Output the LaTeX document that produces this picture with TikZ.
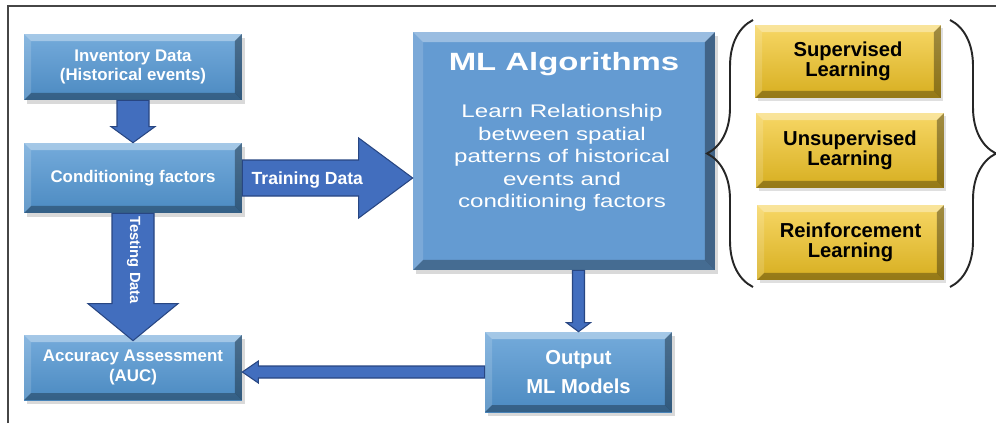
\documentclass[tikz,border=0pt]{standalone}
\usepackage{fontspec}
\setmainfont{Liberation Sans}
\newfontfamily\widefont[FakeStretch=1.32]{Liberation Sans}
\usetikzlibrary{calc,shadows,decorations.pathreplacing}

\definecolor{boxblue}{RGB}{82,150,210}
\definecolor{mlblue}{RGB}{100,155,210}
\definecolor{arrowblue}{RGB}{66,110,190}
\definecolor{arrowline}{RGB}{40,70,130}
\definecolor{gold}{RGB}{244,198,36}
\definecolor{framegray}{RGB}{70,70,70}

\tikzset{
  bevel/.style={path picture={
      \coordinate (nw) at (path picture bounding box.north west);
      \coordinate (se) at (path picture bounding box.south east);
      \coordinate (ne) at (nw -| se);
      \coordinate (sw) at (se -| nw);
      \fill[white, opacity=.35] (nw) -- (ne) -- ($(ne)+(-#1,#1)$) -- ($(nw)+(#1,#1)$) -- cycle;
      \fill[white, opacity=.15] (nw) -- (sw) -- ($(sw)+(#1,-#1)$) -- ($(nw)+(#1,#1)$) -- cycle;
      \fill[black, opacity=.30] (se) -- (sw) -- ($(sw)+(#1,-#1)$) -- ($(se)+(-#1,-#1)$) -- cycle;
      \fill[black, opacity=.35] (se) -- (ne) -- ($(ne)+(-#1,#1)$) -- ($(se)+(-#1,-#1)$) -- cycle;
  }},
  bluebox/.style={rectangle, inner sep=0pt, align=center, text=white,
      top color=boxblue!80!white, bottom color=boxblue!92!black, bevel=7,
      drop shadow={opacity=.3, shadow xshift=.06cm, shadow yshift=-.08cm},
      font=\bfseries\fontsize{9.6}{11}\selectfont},
  mlbox/.style={rectangle, inner sep=0pt, fill=mlblue, bevel=10,
      drop shadow={opacity=.3, shadow xshift=.06cm, shadow yshift=-.08cm}},
  goldbox/.style={rectangle, inner sep=0pt, align=center, text=black,
      top color=gold!70!white, bottom color=gold!88!black, bevel=7,
      drop shadow={opacity=.25, shadow xshift=.05cm, shadow yshift=-.06cm},
      font=\bfseries\fontsize{11.5}{11.5}\selectfont},
  bigarrow/.style={fill=arrowblue, draw=arrowline, line width=.6pt, line join=miter},
  arrowtext/.style={text=white, inner sep=0pt, font=\bfseries\fontsize{10}{12}\selectfont},
  bracket/.style={decorate, draw=black!85, line width=1.1pt,
      decoration={brace, amplitude=.92cm}}
}

\begin{document}
\begin{tikzpicture}[x=0.02cm, y=-0.02cm]
  \useasboundingbox (0,0) rectangle (996,423);
  \draw[framegray, line width=1.2pt] (8,423) -- (8,6) -- (996,6);

  % boxes
  \node[bluebox, minimum width=4.36cm, minimum height=1.32cm] (inv) at (133,67) {Inventory Data\\(Historical events)};
  \node[bluebox, minimum width=4.36cm, minimum height=1.40cm] (cond) at (133,178) {Conditioning factors};
  \node[bluebox, minimum width=4.36cm, minimum height=1.30cm] (acc) at (133,367.5) {Accuracy Assessment\\(AUC)};
  \node[mlbox, minimum width=6.04cm, minimum height=4.76cm] (ml) at (564,151) {};
  \node[bluebox, minimum width=3.74cm, minimum height=1.60cm,
        font=\bfseries\fontsize{11.5}{16}\selectfont] (out) at (578.5,372) {Output\\ML Models};
  \node[text=white, font=\widefont\bfseries\fontsize{14.2}{16}\selectfont] (mltitle) at (564,64) {ML Algorithms};
  \node[text=white, align=center, font=\widefont\fontsize{10.4}{12.8}\selectfont] (mlbody) at (562,158)
        {Learn Relationship\\between spatial\\patterns of historical\\events and\\conditioning factors};

  \node[goldbox, minimum width=3.72cm, minimum height=1.46cm] (sup) at (848,61.5) {Supervised\\Learning};
  \node[goldbox, minimum width=3.76cm, minimum height=1.50cm] (unsup) at (850,150.5) {Unsupervised\\Learning};
  \node[goldbox, minimum width=3.74cm, minimum height=1.50cm] (reinf) at (850.5,242.5) {Reinforcement\\Learning};

  % arrows
  \draw[bigarrow] ($(inv.south)+(-16,0)$) |- ($(cond.north)+(-22,-16)$) -- (cond.north)
        -- ($(cond.north)+(22,-16)$) -| ($(inv.south)+(16,0)$) -- cycle;
  \coordinate (tip) at (ml.west |- cond.east);
  \draw[bigarrow] ($(cond.east)+(0,-18)$) -- ($(tip)+(-54,-18)$) -- ($(tip)+(-54,-40)$) -- (tip)
        -- ($(tip)+(-54,40)$) -- ($(tip)+(-54,18)$) -- ($(cond.east)+(0,18)$) -- cycle;
  \node[arrowtext] (train) at ($(cond.east)+(65,2)$) {Training Data};
  \draw[bigarrow] ($(cond.south)+(-21,0)$) |- ($(acc.north)+(-45,-31)$) -- ($(acc.north)+(0,6)$)
        -- ($(acc.north)+(45,-31)$) -| ($(cond.south)+(21,0)$) -- cycle;
  \node[arrowtext, rotate=-90, font=\bfseries\fontsize{8.4}{10}\selectfont] (test) at ($(cond.south)+(1,47)$) {Testing Data};
  \draw[bigarrow] ($(out.north |- ml.south)+(-6,0)$) |- ($(out.north)+(-12,-9)$) -- (out.north)
        -- ($(out.north)+(12,-9)$) -| ($(out.north |- ml.south)+(6,0)$) -- cycle;
  \coordinate (back) at (acc.east |- out.west);
  \draw[bigarrow] ($(out.west)+(0,-6)$) -| ($(back)+(16,-11)$) -- (back)
        -- ($(back)+(16,11)$) |- ($(out.west)+(0,6)$) -- cycle;

  % braces
  \draw[bracket] (753,287) -- (753,20);
  \draw[bracket] (950,20) -- (950,287);
\end{tikzpicture}
\end{document}
